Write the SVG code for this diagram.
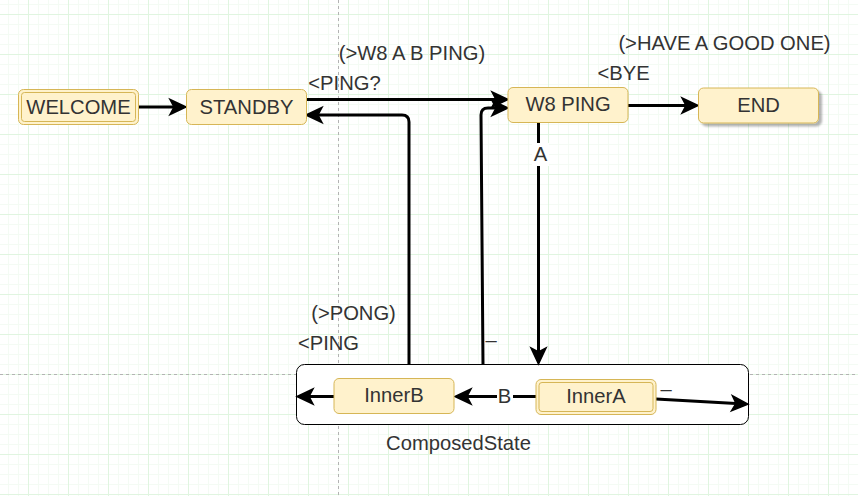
<svg xmlns="http://www.w3.org/2000/svg" width="858" height="496" viewBox="0 0 858 496">
<style>
.node{fill:#fff2cc;stroke:#d6b656;stroke-width:1}
.t{font-family:"Liberation Sans",Arial,sans-serif;font-size:20.2px;fill:#333333;text-anchor:middle}
.e{fill:none;stroke:#000;stroke-width:3}
.guide{stroke:#b3b3b3;stroke-width:1;stroke-dasharray:3 3;fill:none}
</style>
<defs>
<pattern id="minor" patternUnits="userSpaceOnUse" x="8" y="4" width="10" height="10">
<path d="M0.5,0V10M0,0.5H10" stroke="#f4fbf4" stroke-width="1" fill="none"/>
</pattern>
<pattern id="major" patternUnits="userSpaceOnUse" x="28" y="14" width="40" height="40">
<path d="M0.5,0V40M0,0.5H40" stroke="#e0f5e0" stroke-width="1" fill="none"/>
</pattern>
<marker id="arr" markerUnits="userSpaceOnUse" markerWidth="30" markerHeight="30" viewBox="-15 -15 30 30" refX="0" refY="0" orient="auto" overflow="visible">
<path d="M12,0 L-4,-7.5 L0,0 L-4,7.5 Z" fill="#000" stroke="#000" stroke-width="1.5" stroke-linejoin="miter"/>
</marker>
<filter id="sh" x="-10%" y="-20%" width="130%" height="160%">
<feGaussianBlur in="SourceAlpha" stdDeviation="1.2"/>
<feOffset dx="2.5" dy="3" result="o"/>
<feComponentTransfer><feFuncA type="linear" slope="0.3"/></feComponentTransfer>
<feMerge><feMergeNode/><feMergeNode in="SourceGraphic"/></feMerge>
</filter>
</defs>
<rect width="858" height="496" fill="#ffffff"/>
<rect width="858" height="496" fill="url(#minor)"/>
<rect width="858" height="496" fill="url(#major)"/>
<path class="guide" d="M338.5,0V496M0,374.5H858"/>

<g id="composed">
<rect x="296.5" y="364.5" width="452" height="60" rx="8" fill="#ffffff" stroke="#000" stroke-width="1"/>
<text class="t" x="458.5" y="449.5">ComposedState</text>
</g>

<g id="connectors">
<path class="e" d="M139,107H174" marker-end="url(#arr)"/>
<path class="e" d="M306,99.5H496" marker-end="url(#arr)"/>
<path class="e" d="M409,364V122Q409,115 402,115H318" marker-end="url(#arr)"/>
<path class="e" d="M483,364L481,115Q481,108 488,108H496" marker-end="url(#arr)"/>
<path class="e" d="M538.5,122V352" marker-end="url(#arr)"/>
<path class="e" d="M628,105.5H686" marker-end="url(#arr)"/>
<path class="e" d="M536,396.5H467" marker-end="url(#arr)"/>
<path class="e" d="M334,396.5H309" marker-end="url(#arr)"/>
<path class="e" d="M656,399L736,403.5" marker-end="url(#arr)"/>
<rect x="532" y="143" width="17" height="23" fill="#ffffff"/>
<text class="t" x="540.5" y="161">A</text>
<rect x="497" y="386" width="16" height="21" fill="#ffffff"/>
<text class="t" x="504.5" y="403">B</text>
<text class="t" x="491" y="346.5">–</text>
<text class="t" x="666" y="395.5">–</text>
<text class="t" x="412" y="59.5">(&gt;W8 A B PING)</text>
<text class="t" x="344.5" y="89.5">&lt;PING?</text>
<text class="t" x="724.5" y="50">(&gt;HAVE A GOOD ONE)</text>
<text class="t" x="623.5" y="80">&lt;BYE</text>
<text class="t" x="353.5" y="320">(&gt;PONG)</text>
<text class="t" x="328.5" y="349.5">&lt;PING</text>
</g>

<g id="welcome">
<rect class="node" x="18.5" y="89.5" width="120" height="35" rx="5"/>
<rect class="node" x="21.5" y="92.5" width="114" height="29" rx="3"/>
<text class="t" x="78.5" y="113.5">WELCOME</text>
</g>
<g id="standby">
<rect class="node" x="186.5" y="89.5" width="120" height="35" rx="5"/>
<text class="t" x="246.5" y="113.5">STANDBY</text>
</g>
<g id="w8ping">
<rect class="node" x="508" y="87.5" width="120" height="35" rx="5"/>
<text class="t" x="568" y="111">W8 PING</text>
</g>
<g id="end">
<rect class="node" x="698.5" y="88" width="120" height="35" rx="5" filter="url(#sh)"/>
<text class="t" x="758.5" y="111.5">END</text>
</g>
<g id="innerB">
<rect class="node" x="334" y="378.5" width="120" height="35" rx="5"/>
<text class="t" x="394" y="402">InnerB</text>
</g>
<g id="innerA">
<rect class="node" x="536" y="379.5" width="120" height="35" rx="5"/>
<rect class="node" x="539" y="382.5" width="114" height="29" rx="3"/>
<text class="t" x="596" y="402.5">InnerA</text>
</g>
</svg>
